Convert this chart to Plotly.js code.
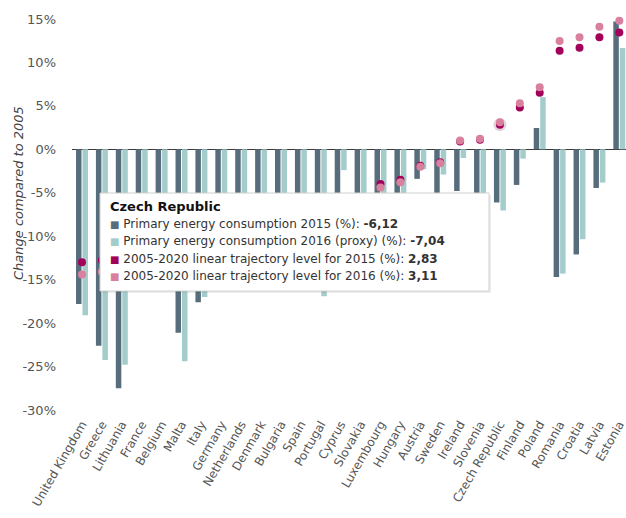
<!DOCTYPE html>
<html>
<head>
<meta charset="utf-8">
<script src="https://cdn.plot.ly/plotly-3.0.1.min.js"></script>
<style>html,body{margin:0;padding:0;background:#fff;}#chart{width:626px;height:518px;}</style>
</head>
<body>
<div id="chart"></div>
<script>
const countries = ["United Kingdom","Greece","Lithuania","France","Belgium","Malta","Italy","Germany","Netherlands","Denmark","Bulgaria","Spain","Portugal","Cyprus","Slovakia","Luxembourg","Hungary","Austria","Sweden","Ireland","Slovenia","Czech Republic","Finland","Poland","Romania","Croatia","Latvia","Estonia"];
const pec2015 = [-17.8,-22.6,-27.5,-9.5,-10.5,-21.1,-17.6,-7.8,-11.0,-13.0,-6.5,-14.5,-14.8,-9.5,-13.5,-11.5,-12.0,-3.4,-9.0,-4.8,-8.0,-6.12,-4.1,2.45,-14.7,-12.1,-4.45,14.7];
const pec2016 = [-19.1,-24.25,-24.8,-9.3,-9.0,-24.4,-17.0,-6.9,-10.7,-12.5,-5.8,-14.0,-16.9,-2.4,-11.5,-10.5,-11.0,-2.3,-2.9,-1.0,-7.5,-7.04,-1.07,6.0,-14.3,-10.35,-3.83,11.65];
const traj2015 = [-13.0,-12.8,-11.8,-11.0,-10.3,-9.7,-9.2,-8.6,-8.1,-7.6,-7.1,-6.8,-6.5,-6.2,-5.9,-4.0,-3.5,-1.9,-1.5,0.9,1.1,2.83,4.8,6.5,11.35,11.7,12.9,13.45];
const traj2016 = [-14.4,-14.1,-12.9,-12.0,-11.3,-10.6,-10.1,-9.4,-8.9,-8.3,-7.8,-7.5,-7.2,-6.9,-6.5,-4.4,-3.8,-2.0,-1.6,1.0,1.2,3.11,5.3,7.15,12.45,12.9,14.1,14.8];
const yTickVals = [-30,-25,-20,-15,-10,-5,0,5,10,15];
const yTickText = ["-30%","-25%","-20%","-15%","-10%","-5%","0%","5%","10%","15%"];
const seriesNames = ["Primary energy consumption 2015 (%)","Primary energy consumption 2016 (proxy) (%)","2005-2020 linear trajectory level for 2015 (%)","2005-2020 linear trajectory level for 2016 (%)"];
const hoverCountry = "Czech Republic";

const cDark = "#586d7c", cLight = "#a3cccb", cMag = "#a3005a", cPink = "#d9809e";
const W = 626, H = 518, mL = 72, mR = 0, mT = 6, mB = 104;
const pw = W - mL - mR, ph = H - mT - mB;
const px = x => (x - mL) / pw;
const py = y => (H - mB - y) / ph;

const hi = countries.indexOf(hoverCountry);
const fmt = v => v.toFixed(2).replace('.', ',');

const traces = [
  {type:'bar', x:countries, y:pec2015, name:seriesNames[0], marker:{color:cDark}},
  {type:'bar', x:countries, y:pec2016, name:seriesNames[1], marker:{color:cLight}},
  {type:'scatter', mode:'markers', x:[countries[hi]], y:[traj2015[hi]], marker:{color:'#7a3a55', size:13, opacity:0.22}, hoverinfo:'skip'},
  {type:'scatter', mode:'markers', x:countries, y:traj2015, name:seriesNames[2], marker:{color:cMag, size:8}},
  {type:'scatter', mode:'markers', x:countries, y:traj2016, name:seriesNames[3], marker:{color:cPink, size:8}}
];

const font = "DejaVu Sans, Verdana, sans-serif";
const boxL = 100, boxR = 489, boxT = 193, boxB = 291;
const lineY = [206, 224, 241.5, 258.5, 275.5];
const sqColors = [cDark, cLight, cMag, cPink];
const vals = [pec2015[hi], pec2016[hi], traj2015[hi], traj2016[hi]];

const annotations = [
  {xref:'paper', yref:'paper', x:px(18), y:py(193), text:'Change compared to 2005', textangle:-90, showarrow:false,
   font:{family:font, size:13, color:'#444', style:'italic'}, xanchor:'center', yanchor:'middle'},
  {xref:'paper', yref:'paper', x:px(108), y:py(lineY[0]), text:'<b>'+hoverCountry+'</b>', showarrow:false,
   xanchor:'left', yanchor:'middle', font:{family:font, size:13, color:'#111'}}
];
for (let k = 0; k < 4; k++) {
  annotations.push({xref:'paper', yref:'paper', x:px(108), y:py(lineY[k+1]), showarrow:false, xanchor:'left', yanchor:'middle',
    text:'<span style="color:'+sqColors[k]+';font-size:10px">■</span> '+seriesNames[k]+': <b>'+fmt(vals[k])+'</b>',
    font:{family:font, size:12, color:'#333'}});
}

const shapes = [
  {type:'rect', xref:'paper', yref:'paper', x0:px(boxL+2), x1:px(boxR+2), y0:py(boxB+2), y1:py(boxT+2), fillcolor:'rgba(0,0,0,0.07)', line:{width:0}, layer:'above'},
  {type:'rect', xref:'paper', yref:'paper', x0:px(boxL), x1:px(boxR), y0:py(boxB), y1:py(boxT), fillcolor:'#ffffff', line:{color:'#d0d0d0', width:1}, layer:'above'}
];

const layout = {
  width:W, height:H, margin:{l:mL, r:mR, t:mT, b:mB, pad:0},
  paper_bgcolor:'#fff', plot_bgcolor:'#fff', showlegend:false,
  barmode:'group', bargap:0.35, bargroupgap:0.15,
  font:{family:font, size:12, color:'#555'},
  xaxis:{type:'category', range:[-0.5025, 27.336], tickmode:'array', tickvals:countries, ticktext:countries,
         tickangle:-60, showgrid:false, zeroline:false, showline:false, ticks:'', automargin:false,
         tickfont:{family:font, size:12, color:'#555'}},
  yaxis:{range:[-30.46, 16.49], tickmode:'array', tickvals:yTickVals, ticktext:yTickText, showgrid:false,
         zeroline:true, zerolinecolor:'#3a3a3a', zerolinewidth:1, showline:false, ticks:'', automargin:false,
         ticklabelstandoff:15, tickfont:{family:font, size:13, color:'#555'}},
  annotations:annotations, shapes:shapes
};

Plotly.newPlot('chart', traces, layout, {staticPlot:true, displayModeBar:false});
</script>
</body>
</html>
